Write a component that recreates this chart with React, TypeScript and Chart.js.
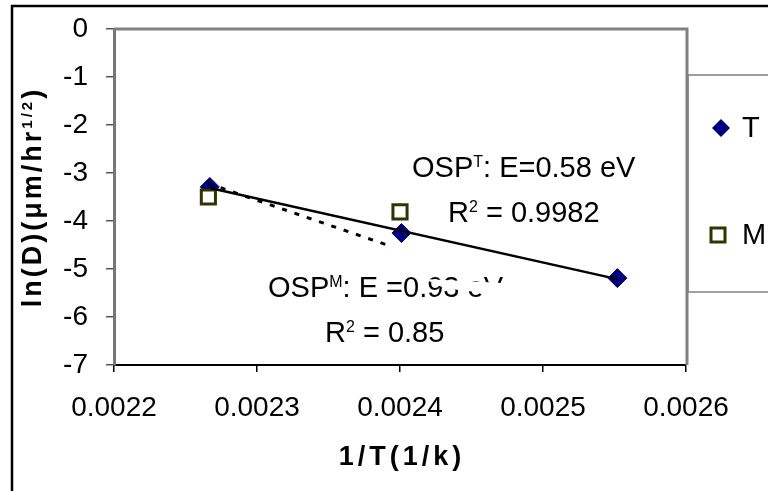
import React, { useEffect, useRef } from "react";
import { Chart, registerables } from "chart.js";

Chart.register(...registerables);

// ---- data ----
const xTickValues = [0.0022, 0.0023, 0.0024, 0.0025, 0.0026];
const xTickLabels = ["0.0022", "0.0023", "0.0024", "0.0025", "0.0026"];
const yTickValues = [0, -1, -2, -3, -4, -5, -6, -7];
const yTickLabels = ["0", "-1", "-2", "-3", "-4", "-5", "-6", "-7"];

const seriesNames = ["T", "M"];
const tX = [0.002267, 0.002401, 0.002552];
const tY = [-3.29, -4.25, -5.19];
const mX = [0.002266, 0.0024];
const mY = [-3.5, -3.81];

// dotted trend line drawn for M (E = 0.93 eV slope)
const mTrendX = [0.002266, 0.002393];
const mTrendY = [-3.22, -4.52];

// white occluding wedge (in data units)
const maskX = [0.0024171, 0.0025675, 0.0025675, 0.0025444, 0.0024535, 0.0024311];
const maskY = [-5.21, -5.44, -6.94, -6.73, -5.48, -5.4];

const xTitle = "1/T(1/k)";
const yTitleParts = [
  { t: "ln(D)(μm/hr", sup: false },
  { t: "1/2", sup: true },
  { t: ")", sup: false },
];
const noteT1 = [
  { t: "OSP", sup: false },
  { t: "T", sup: true },
  { t: ": E=0.58 eV", sup: false },
];
const noteT2 = [
  { t: "R", sup: false },
  { t: "2", sup: true },
  { t: " = 0.9982", sup: false },
];
const noteM1 = [
  { t: "OSP", sup: false },
  { t: "M", sup: true },
  { t: ": E =0.93 eV", sup: false },
];
const noteM2 = [
  { t: "R", sup: false },
  { t: "2", sup: true },
  { t: " = 0.85", sup: false },
];

const NAVY = "#000080";
const OLIVE = "#333300";
const FONT = '"Liberation Sans", Arial, Helvetica, sans-serif';

function linFit(xs: number[], ys: number[]) {
  const n = xs.length;
  const mx = xs.reduce((a, b) => a + b, 0) / n;
  const my = ys.reduce((a, b) => a + b, 0) / n;
  let sxy = 0, sxx = 0;
  for (let i = 0; i < n; i++) {
    sxy += (xs[i] - mx) * (ys[i] - my);
    sxx += (xs[i] - mx) * (xs[i] - mx);
  }
  const s = sxy / sxx;
  return (x: number) => my + s * (x - mx);
}

function drawRich(ctx: CanvasRenderingContext2D, parts: { t: string; sup: boolean }[], x: number, y: number, size: number, bold: boolean, spacing = 0) {
  let cx = x;
  for (const p of parts) {
    const fs = p.sup ? Math.round(size * 0.55) : size;
    ctx.font = `${bold ? "bold " : ""}${fs}px ${FONT}`;
    (ctx as any).letterSpacing = `${spacing}px`;
    ctx.fillText(p.t, cx, p.sup ? y - size * 0.33 : y);
    cx += ctx.measureText(p.t).width;
  }
  (ctx as any).letterSpacing = "0px";
}

function measureRich(ctx: CanvasRenderingContext2D, parts: { t: string; sup: boolean }[], size: number, bold: boolean, spacing = 0) {
  let w = 0;
  for (const p of parts) {
    const fs = p.sup ? Math.round(size * 0.55) : size;
    ctx.font = `${bold ? "bold " : ""}${fs}px ${FONT}`;
    (ctx as any).letterSpacing = `${spacing}px`;
    w += ctx.measureText(p.t).width;
  }
  (ctx as any).letterSpacing = "0px";
  return w;
}

const decor = {
  id: "decor",
  afterDatasetsDraw(chart: any) {
    const ctx: CanvasRenderingContext2D = chart.ctx;
    const xs = chart.scales.x;
    const ys = chart.scales.y;
    ctx.save();
    ctx.fillStyle = "#000";
    ctx.textBaseline = "alphabetic";
    ctx.textAlign = "left";
    drawRich(ctx, noteT1, 412, 177, 29, false);
    drawRich(ctx, noteT2, 448, 222, 29, false);
    drawRich(ctx, noteM1, 268, 297, 29, false);
    drawRich(ctx, noteM2, 325, 342, 29, false);

    // occluding wedge
    ctx.beginPath();
    maskX.forEach((v, i) => {
      const px = xs.getPixelForValue(v);
      const py = ys.getPixelForValue(maskY[i]);
      if (i === 0) ctx.moveTo(px, py);
      else ctx.lineTo(px, py);
    });
    ctx.closePath();
    ctx.fillStyle = "#ffffff";
    ctx.fill();
    ctx.restore();
  },
  afterDraw(chart: any) {
    const ctx: CanvasRenderingContext2D = chart.ctx;
    const a = chart.chartArea;
    ctx.save();
    // plot frame top + right
    ctx.strokeStyle = "#808080";
    ctx.lineWidth = 3;
    ctx.beginPath();
    ctx.moveTo(a.left, a.top);
    ctx.lineTo(a.right + 1, a.top);
    ctx.lineTo(a.right + 1, a.bottom);
    ctx.stroke();

    // legend box
    ctx.strokeStyle = "#808080";
    ctx.lineWidth = 1.5;
    ctx.strokeRect(a.right + 2, 75, 120, 217);
    // T marker
    const lx = a.right + 35;
    ctx.fillStyle = NAVY;
    ctx.beginPath();
    ctx.moveTo(lx, 128 - 9);
    ctx.lineTo(lx + 9, 128);
    ctx.lineTo(lx, 128 + 9);
    ctx.lineTo(lx - 9, 128);
    ctx.closePath();
    ctx.fill();
    // M marker
    ctx.fillStyle = "#fff";
    ctx.strokeStyle = OLIVE;
    ctx.lineWidth = 3;
    ctx.fillRect(lx - 10, 235 - 7, 14, 14);
    ctx.strokeRect(lx - 10, 235 - 7, 14, 14);
    ctx.fillStyle = "#000";
    ctx.font = `29px ${FONT}`;
    ctx.textBaseline = "middle";
    ctx.textAlign = "left";
    ctx.fillText(seriesNames[0], a.right + 56, 129);
    ctx.fillText(seriesNames[1], a.right + 56, 236);

    // x title
    ctx.textBaseline = "alphabetic";
    ctx.font = `bold 27px ${FONT}`;
    (ctx as any).letterSpacing = "4px";
    const xw = ctx.measureText(xTitle).width;
    ctx.fillText(xTitle, (a.left + a.right) / 2 - xw / 2 + 2, 465);
    (ctx as any).letterSpacing = "0px";

    // y title
    const yw = measureRich(ctx, yTitleParts, 27, true, 3);
    ctx.save();
    ctx.translate(41, 197);
    ctx.rotate(-Math.PI / 2);
    drawRich(ctx, yTitleParts, -yw / 2, 0, 27, true, 3);
    ctx.restore();

    // outer frame
    ctx.strokeStyle = "#000";
    ctx.lineWidth = 2.5;
    ctx.beginPath();
    ctx.moveTo(12, 491);
    ctx.lineTo(12, 6);
    ctx.lineTo(768, 6);
    ctx.stroke();
    ctx.restore();
  },
};

export default function App() {
  const ref = useRef<HTMLCanvasElement | null>(null);
  useEffect(() => {
    if (!ref.current) return;
    const tFit = linFit(tX, tY);
    const tMin = Math.min(...tX);
    const tMax = Math.max(...tX);
    const chart = new Chart(ref.current, {
      type: "scatter",
      data: {
        datasets: [
          {
            label: "T trend",
            data: [
              { x: tMin, y: tFit(tMin) },
              { x: tMax, y: tFit(tMax) },
            ],
            showLine: true,
            borderColor: "#000",
            borderWidth: 2.5,
            pointRadius: 0,
            order: 0,
          },
          {
            label: "M trend",
            data: mTrendX.map((x, i) => ({ x, y: mTrendY[i] })),
            showLine: true,
            borderColor: "#000",
            borderWidth: 3,
            borderDash: [5, 8],
            pointRadius: 0,
            order: 0,
          },
          {
            label: seriesNames[1],
            data: mX.map((x, i) => ({ x, y: mY[i] })),
            pointStyle: "rect",
            pointRadius: 10,
            pointBorderWidth: 3,
            backgroundColor: "#ffffff",
            borderColor: OLIVE,
            order: 1,
          },
          {
            label: seriesNames[0],
            data: tX.map((x, i) => ({ x, y: tY[i] })),
            pointStyle: "rectRot",
            pointRadius: 9.5,
            pointBorderWidth: 1,
            backgroundColor: NAVY,
            borderColor: NAVY,
            order: 2,
          },
        ],
      },
      options: {
        responsive: false,
        animation: false,
        devicePixelRatio: 1,
        layout: { padding: { left: 0, top: 29, right: 82, bottom: 0 } },
        plugins: { legend: { display: false }, tooltip: { enabled: false } },
        scales: {
          x: {
            type: "linear",
            min: 0.0022,
            max: 0.0026,
            afterBuildTicks: (s: any) => {
              s.ticks = xTickValues.map((v) => ({ value: v }));
            },
            afterFit: (s: any) => {
              s.height = 126;
              s.paddingLeft = 0;
              s.paddingRight = 0;
              s.paddingTop = 0;
              s.paddingBottom = 0;
            },
            ticks: {
              callback: (_v: any, i: number) => xTickLabels[i],
              font: { family: FONT, size: 28 },
              color: "#000",
              padding: 19,
              maxRotation: 0,
              autoSkip: false,
            },
            grid: { drawOnChartArea: false, drawTicks: true, tickLength: 7, color: "#000", lineWidth: 1.5 },
            border: { display: true, color: "#000", width: 2 },
          },
          y: {
            type: "linear",
            min: -7,
            max: 0,
            afterBuildTicks: (s: any) => {
              s.ticks = yTickValues.map((v) => ({ value: v }));
            },
            afterFit: (s: any) => {
              s.width = 114;
              s.paddingLeft = 0;
              s.paddingRight = 0;
              s.paddingTop = 0;
              s.paddingBottom = 0;
            },
            ticks: {
              callback: (_v: any, i: number) => yTickLabels[i],
              font: { family: FONT, size: 28 },
              color: "#000",
              padding: 18,
              autoSkip: false,
            },
            grid: { drawOnChartArea: false, drawTicks: true, tickLength: 8, color: "#555", lineWidth: 1.5 },
            border: { display: true, color: "#777", width: 3 },
          },
        },
      },
      plugins: [decor],
    } as any);
    return () => chart.destroy();
  }, []);
  return (
    <div style={{ position: "fixed", left: 0, top: 0, width: 768, height: 491, background: "#fff" }}>
      <canvas ref={ref} width={768} height={491} style={{ display: "block" }} />
    </div>
  );
}
